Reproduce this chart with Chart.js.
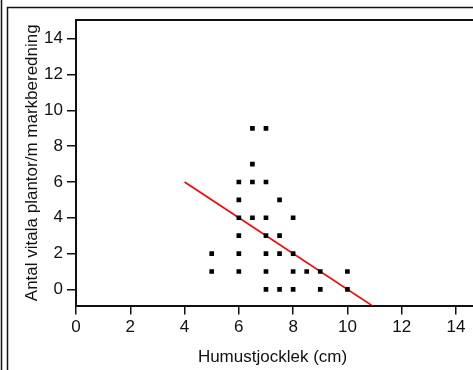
<!DOCTYPE html>
<html>
<head>
<meta charset="utf-8">
<script src="https://cdn.jsdelivr.net/npm/chart.js@4"></script>
<style>
html,body{margin:0;padding:0;background:#fff;overflow:hidden;}
#c{display:block;}
</style>
</head>
<body>
<canvas id="c" width="473" height="370"></canvas>
<script>
// Data
const humusX = [6.5, 7, 6.5, 6, 6.5, 7, 6, 7.5, 6, 6.5, 7, 8, 6, 7, 7.5, 5, 6, 7, 7.5, 8, 5, 6, 7, 8, 8.5, 9, 10, 7, 7.5, 8, 9, 10];
const plantsY = [9, 9, 7, 6, 6, 6, 5, 5, 4, 4, 4, 4, 3, 3, 3, 2, 2, 2, 2, 2, 1, 1, 1, 1, 1, 1, 1, 0, 0, 0, 0, 0];
const trendX = [4, 11];
const trendY = [6, -1];
const xTicks = [0, 2, 4, 6, 8, 10, 12, 14];
const yTicks = [0, 2, 4, 6, 8, 10, 12, 14];
const xTitle = 'Humustjocklek (cm)';
const yTitle = 'Antal vitala plantor/m markberedning';

const ink = '#111';
const fontFam = "'Liberation Sans', Arial, sans-serif";

const framePlugin = {
  id: 'frame',
  afterDraw(chart) {
    const ctx = chart.ctx;
    const a = chart.chartArea;
    ctx.save();
    ctx.strokeStyle = ink;
    ctx.lineWidth = 1.5;
    ctx.beginPath();
    ctx.moveTo(1.5, 0);
    ctx.lineTo(1.5, 370);
    ctx.stroke();
    ctx.beginPath();
    ctx.moveTo(7.5, 370);
    ctx.lineTo(7.5, 7.5);
    ctx.lineTo(480, 7.5);
    ctx.stroke();
    ctx.lineWidth = 2;
    ctx.beginPath();
    ctx.moveTo(a.left - 1, a.top);
    ctx.lineTo(480, a.top);
    ctx.moveTo(a.right - 2, 306);
    ctx.lineTo(480, 306);
    ctx.stroke();
    ctx.restore();
  }
};

new Chart(document.getElementById('c'), {
  type: 'scatter',
  data: {
    datasets: [
      {
        type: 'scatter',
        data: humusX.map((x, i) => ({x: x, y: plantsY[i]})),
        pointStyle: 'rect',
        pointRadius: 3.3,
        pointBorderWidth: 0,
        backgroundColor: '#000',
        borderColor: '#000'
      },
      {
        type: 'line',
        data: trendX.map((x, i) => ({x: x, y: trendY[i]})),
        borderColor: '#ff0000',
        borderWidth: 1.6,
        pointRadius: 0,
        fill: false
      }
    ]
  },
  options: {
    responsive: false,
    animation: false,
    devicePixelRatio: 1,
    layout: {padding: {left: 0, top: 20, right: 0, bottom: 0}},
    plugins: {legend: {display: false}, tooltip: {enabled: false}},
    scales: {
      x: {
        type: 'linear',
        min: 0,
        max: 14.48,
        afterBuildTicks: s => { s.ticks = xTicks.map(v => ({value: v})); },
        afterFit: s => { s.height = 64.5; s.paddingLeft = 0; s.paddingRight = 0; },
        ticks: {color: ink, font: {family: fontFam, size: 17}, padding: 3, maxRotation: 0},
        grid: {display: true, drawOnChartArea: false, drawTicks: true, tickLength: 9, color: ink, lineWidth: 1.5},
        border: {display: true, color: ink, width: 2},
        title: {display: true, text: xTitle, color: ink, font: {family: fontFam, size: 17}, padding: {top: 4, bottom: 2}}
      },
      y: {
        type: 'linear',
        min: -0.9,
        max: 15.05,
        afterBuildTicks: s => { s.ticks = yTicks.map(v => ({value: v})); },
        afterFit: s => { s.width = 76; },
        ticks: {color: ink, font: {family: fontFam, size: 17}, padding: 4},
        grid: {display: true, drawOnChartArea: false, drawTicks: true, tickLength: 9, color: ink, lineWidth: 1.5},
        border: {display: true, color: ink, width: 2},
        title: {display: true, text: yTitle, color: ink, font: {family: fontFam, size: 17}, padding: {top: 22, bottom: 0}}
      }
    }
  },
  plugins: [framePlugin]
});
</script>
</body>
</html>
